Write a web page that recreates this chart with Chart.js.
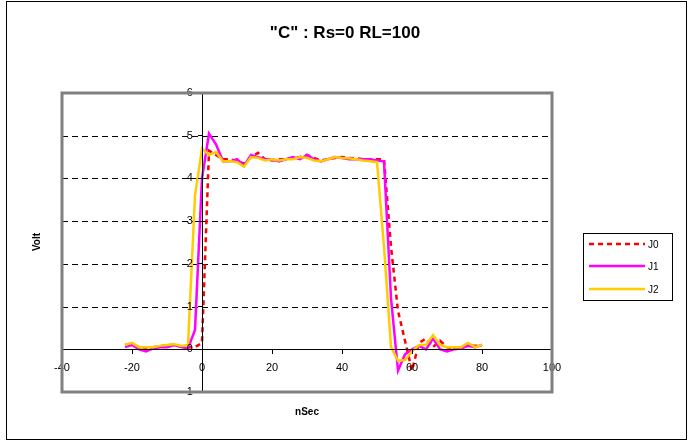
<!DOCTYPE html>
<html>
<head>
<meta charset="utf-8">
<title>"C" : Rs=0 RL=100</title>
<script src="https://cdn.jsdelivr.net/npm/chart.js@4.4.1/dist/chart.umd.min.js"></script>
<style>
  html, body { margin: 0; padding: 0; background: #fff; }
  #wrap { width: 691px; height: 445px; }
</style>
</head>
<body>
<div id="wrap"><canvas id="chart" width="691" height="445"></canvas></div>
<script>
// time axis (nSec) and the three traces
const nSec = [-22, -20, -18, -16, -14, -12, -10, -8, -6, -4, -2, 0, 2, 4, 6, 8, 10, 12, 14, 16,
  18, 20, 22, 24, 26, 28, 30, 32, 34, 36, 38, 40, 42, 44, 46, 48, 50, 52, 54, 56,
  58, 60, 62, 64, 66, 68, 70, 72, 74, 76, 78, 80];

const J0 = [0.10, 0.12, 0.05, 0.03, 0.05, 0.07, 0.10, 0.10, 0.07, 0.05, 0.05, 0.15, 4.65, 4.55, 4.45, 4.45, 4.40, 4.35, 4.50, 4.60,
  4.45, 4.42, 4.45, 4.45, 4.48, 4.50, 4.55, 4.48, 4.42, 4.45, 4.48, 4.50, 4.48, 4.47, 4.45, 4.45, 4.45, 4.45, 2.40, 0.90,
  0.20, -0.50, 0.15, 0.25, 0.05, 0.20, 0.05, 0.00, 0.05, 0.10, 0.08, 0.10];

const J1 = [0.05, 0.10, 0.00, -0.05, 0.02, 0.05, 0.05, 0.10, 0.05, 0.02, 0.45, 4.00, 5.05, 4.80, 4.40, 4.40, 4.45, 4.30, 4.55, 4.50,
  4.45, 4.45, 4.40, 4.45, 4.50, 4.45, 4.55, 4.45, 4.40, 4.45, 4.50, 4.48, 4.45, 4.45, 4.45, 4.45, 4.42, 4.40, 1.20, -0.50,
  -0.12, 0.00, 0.08, 0.00, 0.25, 0.00, -0.05, 0.00, 0.02, 0.08, 0.05, 0.10];

const J2 = [0.10, 0.15, 0.05, 0.05, 0.05, 0.08, 0.10, 0.12, 0.08, 0.10, 3.60, 4.70, 4.55, 4.62, 4.40, 4.40, 4.38, 4.28, 4.50, 4.48,
  4.42, 4.45, 4.42, 4.45, 4.45, 4.50, 4.48, 4.42, 4.40, 4.45, 4.50, 4.48, 4.47, 4.45, 4.42, 4.40, 4.38, 2.40, 0.05, -0.27,
  -0.25, -0.05, 0.10, 0.10, 0.33, 0.10, 0.05, 0.05, 0.05, 0.15, 0.05, 0.10];

const seriesNames = ['J0', 'J1', 'J2'];
const xTicks = [-40, -20, 0, 20, 40, 60, 80, 100];
const yTicks = [-1, 0, 1, 2, 3, 4, 5, 6];
const dashedLevels = [1, 2, 3, 4, 5];

const FONT = '"Liberation Sans", Arial, sans-serif';

function toPoints(ys) {
  return ys.map((y, i) => ({ x: nSec[i], y: y }));
}

const styles = [
  { color: '#FF0000', dash: [5, 4] },
  { color: '#FF00FF', dash: [] },
  { color: '#FFCC00', dash: [] }
];

const datasets = [J0, J1, J2].map((ys, i) => ({
  label: seriesNames[i],
  data: toPoints(ys),
  showLine: true,
  borderColor: styles[i].color,
  borderWidth: 2.5,
  borderDash: styles[i].dash,
  pointRadius: 0,
  tension: 0,
  order: 3 - i
}));

// frame, dashed gridlines, titles and legend drawn straight on the canvas
const decor = {
  id: 'decor',
  beforeDraw(chart) {
    const ctx = chart.ctx;
    const a = chart.chartArea;
    const ys = chart.scales.y;
    ctx.save();
    ctx.fillStyle = '#fff';
    ctx.fillRect(0, 0, chart.width, chart.height);
    ctx.strokeStyle = '#000';
    ctx.lineWidth = 1;
    ctx.setLineDash([6, 4]);
    dashedLevels.forEach(v => {
      const y = Math.round(ys.getPixelForValue(v)) + 0.5;
      ctx.beginPath();
      ctx.moveTo(a.left, y);
      ctx.lineTo(a.right, y);
      ctx.stroke();
    });
    ctx.restore();
  },
  afterDraw(chart) {
    const ctx = chart.ctx;
    const a = chart.chartArea;
    ctx.save();
    // plot area border
    ctx.strokeStyle = '#808080';
    ctx.lineWidth = 3;
    ctx.strokeRect(a.left, a.top, a.right - a.left, a.bottom - a.top);
    // outer chart border
    ctx.strokeStyle = '#000';
    ctx.lineWidth = 1;
    ctx.strokeRect(6.5, 1.5, 680, 438);

    ctx.fillStyle = '#000';
    ctx.textAlign = 'center';
    ctx.textBaseline = 'middle';
    ctx.font = 'bold 17px ' + FONT;
    ctx.fillText('"C" : Rs=0 RL=100', 345, 33);

    ctx.font = 'bold 10px ' + FONT;
    ctx.fillText('nSec', 307, 412);
    ctx.save();
    ctx.translate(37, 242);
    ctx.rotate(-Math.PI / 2);
    ctx.fillText('Volt', 0, 0);
    ctx.restore();

    // legend
    ctx.strokeStyle = '#000';
    ctx.lineWidth = 1;
    ctx.strokeRect(583.5, 233.5, 89, 67);
    ctx.textAlign = 'left';
    ctx.font = '10px ' + FONT;
    const rows = [244, 266, 289];
    seriesNames.forEach((name, i) => {
      ctx.save();
      ctx.strokeStyle = styles[i].color;
      ctx.lineWidth = 2.5;
      ctx.setLineDash(styles[i].dash);
      ctx.beginPath();
      ctx.moveTo(589, rows[i]);
      ctx.lineTo(645, rows[i]);
      ctx.stroke();
      ctx.restore();
      ctx.fillStyle = '#000';
      ctx.fillText(name, 648, rows[i] + 1);
    });
    ctx.restore();
  }
};

new Chart(document.getElementById('chart'), {
  type: 'scatter',
  data: { datasets },
  options: {
    responsive: false,
    animation: false,
    devicePixelRatio: 1,
    layout: { padding: { left: 62, right: 139, top: 93, bottom: 53 } },
    plugins: {
      legend: { display: false },
      title: { display: false },
      tooltip: { enabled: false }
    },
    scales: {
      x: {
        type: 'linear',
        position: { y: 0 },
        min: xTicks[0],
        max: xTicks[xTicks.length - 1],
        afterBuildTicks: (s) => { s.ticks = xTicks.map(v => ({ value: v })); },
        ticks: { z: 1, color: '#000', font: { family: FONT, size: 11 }, padding: 8, maxRotation: 0 },
        grid: { z: 1, drawOnChartArea: false, drawTicks: true, tickLength: 4, tickColor: '#000', color: '#000' },
        border: { z: 1, color: '#000', width: 1 }
      },
      y: {
        type: 'linear',
        position: { x: 0 },
        min: yTicks[0],
        max: yTicks[yTicks.length - 1],
        afterBuildTicks: (s) => { s.ticks = yTicks.map(v => ({ value: v })); },
        // centred axis ignores padding, so trailing spaces push the labels left
        ticks: { z: 1, color: '#000', font: { family: FONT, size: 11 }, autoSkip: false, callback: (v) => v + '   ' },
        grid: { z: 1, drawOnChartArea: false, drawTicks: true, tickLength: 4, tickColor: '#000', color: '#000' },
        border: { z: 1, color: '#000', width: 1 }
      }
    }
  },
  plugins: [decor]
});
</script>
</body>
</html>
